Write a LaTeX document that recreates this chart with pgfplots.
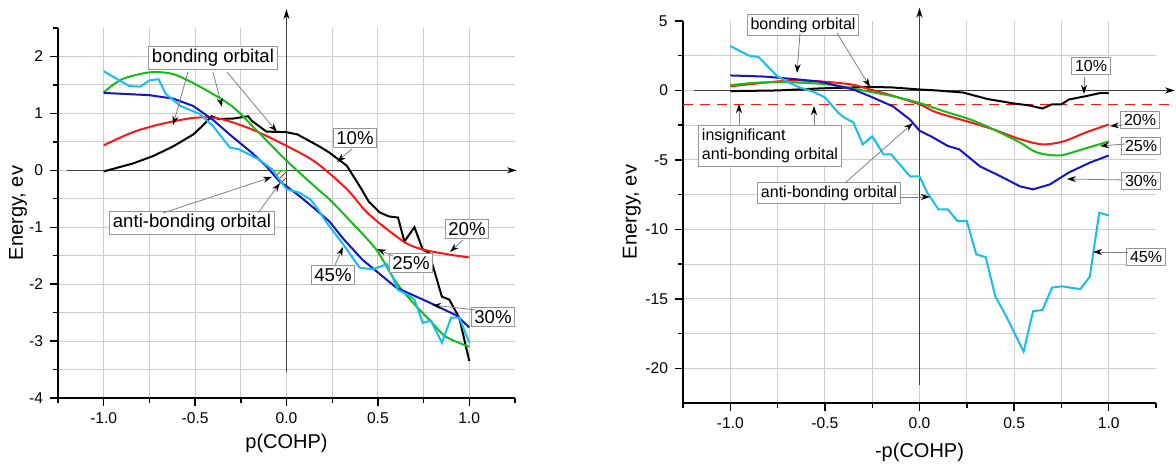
\documentclass[border=0pt]{standalone}
\usepackage{pgfplots}
\pgfplotsset{compat=1.18}
\usepackage{fontspec}
\setmainfont{Liberation Sans}
\usetikzlibrary{arrows.meta,patterns}

\definecolor{cTen}{RGB}{0,0,0}
\definecolor{cTwenty}{RGB}{255,20,20}
\definecolor{cTwentyFive}{RGB}{20,190,20}
\definecolor{cThirty}{RGB}{20,20,200}
\definecolor{cFortyFive}{RGB}{20,190,240}
\definecolor{gridgray}{RGB}{205,205,205}
\definecolor{boxgray}{RGB}{150,150,150}

\tikzset{
  ann/.style={draw=boxgray, fill=white, line width=0.5pt, inner sep=1.6pt, text=black},
  pt/.style={draw=gray, line width=0.4pt, -{Stealth[length=4.5pt,width=3pt,color=black]}},
  inaxis/.style={draw=black!75, line width=0.45pt, -{Stealth[length=5pt,width=3pt,color=black]}},
  endtick/.style={black, line width=0.7pt},
}

\pgfplotsset{
  cohp/.style={
    scale only axis,
    axis lines=left,
    axis line style={-, line width=0.8pt},
    xmin=-1.25, xmax=1.25,
    xtick={-1,-0.5,0,0.5,1},
    minor xtick={-0.75,-0.25,0.25,0.75},
    xmajorgrids=true, xminorgrids=true,
    ymajorgrids=true, yminorgrids=true,
    major grid style={draw=gridgray, line width=0.5pt},
    minor grid style={draw=gridgray, line width=0.5pt},
    tick align=outside,
    major tick length=4pt, minor tick length=2.5pt,
    tick style={black, line width=0.7pt},
    xticklabel style={/pgf/number format/.cd, fixed, fixed zerofill, precision=1},
    /pgf/number format/assume math mode=true,
    tick label style={font=\fontsize{7.8}{9}\selectfont},
    label style={font=\fontsize{9.5}{11}\selectfont},
    clip=false,
    every axis plot/.append style={line width=1pt},
  },
}

\begin{document}
\begin{tikzpicture}
\path[use as bounding box] (0,0) rectangle (588pt,232pt);

% ---------------- left panel ----------------
\begin{axis}[cohp,
  at={(29pt,33pt)}, anchor=south west,
  width=228.5pt, height=185pt,
  ymin=-4, ymax=2.5,
  ytick={-4,-3,-2,-1,0,1,2},
  minor ytick={-3.5,-2.5,-1.5,-0.5,0.5,1.5},
  xlabel={p(COHP)}, ylabel={Energy, ev},
  every axis x label/.style={at={(axis description cs:0.5,-0.122)}, anchor=center},
  every axis y label/.style={at={(axis description cs:-0.0875,0.5)}, rotate=90, anchor=center},
]
\draw[endtick] (axis cs:-1.25,-4) -- ([yshift=-2.5pt]axis cs:-1.25,-4);
\draw[endtick] (axis cs:1.25,-4) -- ([yshift=-2.5pt]axis cs:1.25,-4);
\draw[endtick] (axis cs:-1.25,2.5) -- ([xshift=-2.5pt]axis cs:-1.25,2.5);
\draw[inaxis] (axis cs:0,-3.55) -- (axis cs:0,2.83);
\draw[inaxis] (axis cs:-1.2,0) -- (axis cs:1.26,0);

\addplot[draw=none, pattern=north east lines, pattern color=cTwenty]
  coordinates {(-0.085,0) (0,0) (0,-0.31) (-0.085,0)};
\addplot[cTwentyFive, line width=0.6pt] coordinates {(-0.085,0) (0,0)};

% 10%
\addplot[cTen] coordinates {
(-1.0,-0.02) (-0.84,0.12) (-0.73,0.25) (-0.62,0.42) (-0.51,0.63) (-0.46,0.78)
(-0.41,0.95) (-0.37,0.90) (-0.29,0.91) (-0.21,0.95) (-0.19,0.87) (-0.11,0.68)
(0.0,0.67) (0.06,0.63) (0.14,0.49) (0.19,0.40) (0.235,0.31) (0.33,0.08)
(0.41,-0.33) (0.45,-0.55) (0.51,-0.74) (0.56,-0.81) (0.61,-0.83) (0.645,-1.25)
(0.70,-1.0) (0.745,-1.39) (0.78,-1.45) (0.85,-2.22) (0.89,-2.27) (0.945,-2.59)
(1.0,-3.35)};
% 20%
\addplot[cTwenty, smooth] coordinates {
(-1,0.44) (-0.84,0.67) (-0.69,0.81) (-0.51,0.92) (-0.37,0.91) (-0.19,0.72)
(0,0.43) (0.16,0.14) (0.33,-0.33) (0.45,-0.77) (0.64,-1.25) (0.745,-1.39)
(0.89,-1.48) (1.0,-1.53)};
% 25%
\addplot[cTwentyFive, smooth] coordinates {
(-1,1.37) (-0.9,1.6) (-0.75,1.72) (-0.62,1.69) (-0.48,1.48) (-0.3,1.13)
(-0.16,0.69) (0,0.17) (0.16,-0.3) (0.235,-0.51) (0.34,-0.86) (0.49,-1.39)
(0.6,-1.97) (0.71,-2.39) (0.78,-2.62) (0.87,-2.92) (1.0,-3.1)};
% 30%
\addplot[cThirty] coordinates {
(-1,1.36) (-0.75,1.32) (-0.62,1.26) (-0.51,1.13) (-0.40,0.88) (-0.30,0.6)
(-0.19,0.31) (-0.11,0.07) (-0.04,-0.19) (0.0,-0.28) (0.07,-0.45) (0.16,-0.69)
(0.235,-0.9) (0.31,-1.2) (0.415,-1.57) (0.6,-2.06) (0.78,-2.32) (0.93,-2.55)
(1.0,-2.76)};
% 45%
\addplot[cFortyFive] coordinates {
(-1,1.74) (-0.86,1.48) (-0.80,1.47) (-0.75,1.58) (-0.70,1.6) (-0.66,1.34)
(-0.58,1.13) (-0.475,0.99) (-0.4,0.77) (-0.31,0.4) (-0.26,0.37) (-0.15,0.19)
(-0.08,0.02) (0,-0.33) (0.07,-0.39) (0.13,-0.51) (0.16,-0.63) (0.22,-0.92)
(0.31,-1.3) (0.40,-1.71) (0.47,-1.74) (0.55,-1.65) (0.61,-2.1) (0.66,-2.18)
(0.70,-2.27) (0.745,-2.68) (0.79,-2.64) (0.85,-3.03) (0.90,-2.59) (0.945,-2.59)
(1.0,-3.03)};
\end{axis}

% ---------------- right panel ----------------
\begin{axis}[cohp,
  at={(341.5pt,30.5pt)}, anchor=south west,
  width=236.5pt, height=191pt,
  ymin=-22.5, ymax=5,
  ytick={-20,-15,-10,-5,0},
  minor ytick={-17.5,-12.5,-7.5,-2.5,2.5},
  xlabel={-p(COHP)}, ylabel={Energy, ev},
  every axis x label/.style={at={(axis description cs:0.5,-0.128)}, anchor=center},
  every axis y label/.style={at={(axis description cs:-0.108,0.5)}, rotate=90, anchor=center},
]
\draw[endtick] (axis cs:-1.25,-22.5) -- ([yshift=-2.5pt]axis cs:-1.25,-22.5);
\draw[endtick] (axis cs:1.25,-22.5) -- ([yshift=-2.5pt]axis cs:1.25,-22.5);
\draw[endtick] (axis cs:-1.25,5) -- ([xshift=-4pt]axis cs:-1.25,5)
  node[anchor=east, inner sep=0.333em, font=\fontsize{7.8}{9}\selectfont] {5};
\draw[inaxis] (axis cs:0,-21.2) -- (axis cs:0,5.95);
\draw[inaxis] (axis cs:-1.19,0) -- (axis cs:1.35,0);
\draw[cTwenty, line width=0.8pt, dash pattern=on 5pt off 3.5pt] (axis cs:-1.25,-1) -- (axis cs:1.35,-1);

% 10%
\addplot[cTen] coordinates {
(-1,-0.05) (-0.75,0.0) (-0.52,0.15) (-0.26,0.25) (-0.15,0.22) (0,0.07)
(0.09,0.0) (0.23,-0.15) (0.36,-0.62) (0.5,-0.94) (0.58,-1.08) (0.65,-1.3)
(0.70,-1.0) (0.75,-1.0) (0.79,-0.65) (0.88,-0.41) (0.95,-0.2) (1.0,-0.2)};
% 20%
\addplot[cTwenty, smooth] coordinates {
(-1,0.3) (-0.75,0.65) (-0.64,0.72) (-0.52,0.65) (-0.36,0.43) (-0.26,0.07)
(-0.15,-0.35) (0,-1.0) (0.09,-1.58) (0.27,-2.3) (0.39,-2.8) (0.53,-3.5)
(0.65,-3.88) (0.76,-3.67) (0.88,-3.02) (1.0,-2.45)};
% 25%
\addplot[cTwentyFive, smooth] coordinates {
(-1,0.38) (-0.87,0.55) (-0.75,0.6) (-0.61,0.55) (-0.47,0.4) (-0.26,-0.1)
(-0.13,-0.45) (0,-0.9) (0.13,-1.5) (0.27,-2.1) (0.39,-2.8) (0.53,-3.74)
(0.62,-4.46) (0.74,-4.68) (0.86,-4.24) (1.0,-3.67)};
% 30%
\addplot[cThirty] coordinates {
(-1,1.08) (-0.82,1.0) (-0.64,0.79) (-0.52,0.62) (-0.35,0.07) (-0.26,-0.43)
(-0.14,-1.15) (-0.05,-2.1) (0,-2.9) (0.06,-3.3) (0.15,-4.0) (0.21,-4.24)
(0.32,-5.47) (0.43,-6.19) (0.53,-6.9) (0.6,-7.12) (0.69,-6.76) (0.79,-5.9)
(0.9,-5.2) (1.0,-4.68)};
% 45%
\addplot[cFortyFive] coordinates {
(-1,3.2) (-0.9,2.5) (-0.85,2.4) (-0.8,1.7) (-0.75,1.0) (-0.68,0.5)
(-0.63,0.2) (-0.56,-0.1) (-0.5,-0.5) (-0.43,-1.6) (-0.40,-1.94) (-0.35,-2.3)
(-0.3,-3.88) (-0.25,-3.3) (-0.19,-4.6) (-0.15,-4.6) (-0.05,-6.19) (0,-6.19)
(0.04,-7.34) (0.1,-8.56) (0.15,-8.56) (0.2,-9.4) (0.25,-9.4) (0.3,-11.8)
(0.35,-12.0) (0.4,-14.8) (0.46,-16.3) (0.55,-18.8) (0.6,-15.9) (0.65,-15.8)
(0.7,-14.2) (0.75,-14.1) (0.85,-14.3) (0.9,-13.4) (0.95,-8.8) (1.0,-9.0)};
\end{axis}

% ---------------- annotations (pixel frame of the 1176x464 picture) ----------------
\begin{scope}[x=0.5pt, y=-0.5pt, shift={(0,232pt)}]
  \begin{scope}[every node/.style={ann, font=\fontsize{9.3}{11}\selectfont}]
    \node at (213,58) {bonding orbital};
    \node at (192,223) {anti-bonding orbital};
    \node at (355,138) {10\%};
    \node at (467,229) {20\%};
    \node at (411,263) {25\%};
    \node at (333,275) {45\%};
    \node at (493,317) {30\%};
  \end{scope}
  \draw[pt] (188,72) -- (173,125);
  \draw[pt] (213,72) -- (222,107);
  \draw[pt] (227,72) -- (277,132);
  \draw[pt] (163,213) -- (272,177);
  \draw[pt] (258,213) -- (280,183);
  \draw[pt] (352,149) -- (337,162);
  \draw[pt] (463,240) -- (450,252);
  \draw[pt] (393,256) -- (377,249);
  \draw[pt] (335,265) -- (343,247);
  \draw[pt] (476,310) -- (432,305);

  \begin{scope}[every node/.style={ann, font=\fontsize{8}{9.6}\selectfont}]
    \node at (803,25) {bonding orbital};
    \node[align=left] at (770,146) {insignificant\\anti-bonding orbital};
    \node at (829,193) {anti-bonding orbital};
    \node at (1091,66) {10\%};
    \node at (1140,120) {20\%};
    \node at (1141,146) {25\%};
    \node at (1141,181) {30\%};
    \node at (1146,257) {45\%};
  \end{scope}
  \draw[pt] (800,33) -- (797,73);
  \draw[pt] (837,33) -- (870,87);
  \draw[pt] (739,125) -- (739,104);
  \draw[pt] (814,125) -- (814,106);
  \draw[pt] (845,183) -- (913,123);
  \draw[pt] (900,197) -- (930,197);
  \draw[pt] (1084,77) -- (1084,94);
  \draw[pt] (1123,125) -- (1110,126);
  \draw[pt] (1125,144) -- (1100,146);
  \draw[pt] (1125,180) -- (1067,179);
  \draw[pt] (1128,252) -- (1093,252);
\end{scope}
\end{tikzpicture}
\end{document}
